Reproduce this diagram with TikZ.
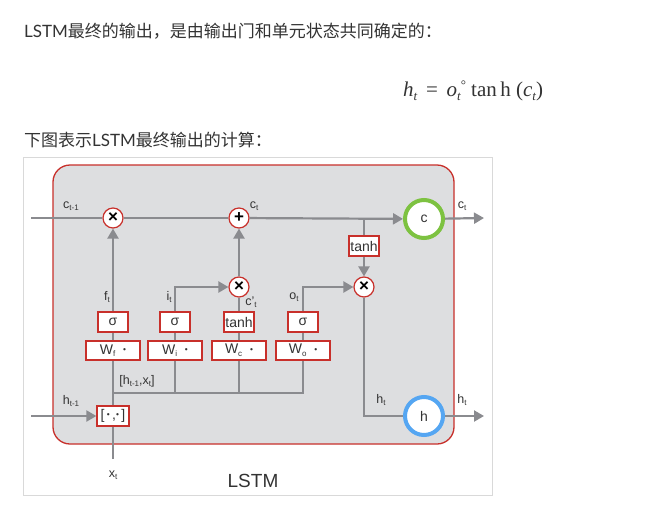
\documentclass[tikz,border=0pt]{standalone}
\usepackage{fontspec}
\setmainfont{Liberation Sans}
\newfontfamily\cjk{Noto Sans CJK SC}
\newfontfamily\lato{Lato}
\newfontfamily\tms{Liberation Serif}
\usetikzlibrary{arrows.meta}

\definecolor{wirec}{HTML}{8A8B8F}
\definecolor{redc}{HTML}{C8302B}
\definecolor{greenc}{HTML}{7DC241}
\definecolor{bluec}{HTML}{55A6F2}
\definecolor{cellc}{HTML}{DDDEE0}
\definecolor{framec}{HTML}{D9D9D9}
\definecolor{txt}{HTML}{333333}

% small lowered index used in the cell labels
\newcommand\sub[1]{\raisebox{-0.35ex}{\fontsize{8}{8}\selectfont #1}}
\newcommand\msub[1]{\raisebox{-0.45ex}{\fontsize{13}{13}\selectfont\itshape #1}}
\newcommand\dotop{\raisebox{0.25ex}{\scalebox{0.6}{\textbullet}}}

\tikzset{
  wire/.style={draw=wirec, line width=2.2pt},
  arr/.style={-{Triangle[length=10pt,width=11pt]}},
  redbox/.style={draw=redc, fill=white, line width=1.3pt, inner sep=0pt,
    minimum height=20pt, font=\fontsize{14}{14}\selectfont, text=txt},
  gatebox/.style={redbox, minimum width=30pt},
  wbox/.style={redbox, minimum width=54pt, minimum height=19pt},
  op/.style={circle, draw=redc, fill=white, line width=1.2pt, inner sep=0pt,
    minimum size=20pt, font=\fontsize{17}{17}\selectfont\bfseries},
  state/.style={circle, fill=white, line width=4pt, minimum size=38pt,
    inner sep=0pt, font=\fontsize{14}{14}\selectfont, text=txt},
  lbl/.style={text=txt, inner sep=0pt, font=\fontsize{12.5}{12.5}\selectfont},
  para/.style={text=txt, inner sep=0pt, anchor=west,
    font=\fontsize{17}{17}\selectfont},
}

\begin{document}
\begin{tikzpicture}[x=1pt,y=-1pt]
\useasboundingbox (0,0) rectangle (649,520);
\fill[white] (0,0) rectangle (649,520);

% paragraph text and formula
\node[para] (p1) at (24,31) {\lato LSTM\cjk 最终的输出，是由输出门和单元状态共同确定的：};
\node[text=txt, inner sep=0pt, anchor=west] (eq) at (403,91)
  {\tms\fontsize{21}{21}\selectfont \textit{h}\msub{t}\ \,=\ \,\textit{o}\msub{t}\raisebox{0.7ex}{\fontsize{13}{13}\selectfont°}\ tan\,h\ (\textit{c}\msub{t})};
\node[para] (p2) at (24,140) {\cjk 下图表示\lato LSTM\cjk 最终输出的计算：};

% frame and cell
\draw[framec, line width=1pt] (23,157) rectangle (492,495);
\draw[redc, fill=cellc, line width=1.3pt, rounded corners=17pt] (53,165) rectangle (454,444);

% operators
\node[op] (m1) at (113,218) {×};
\node[op] (a1) at (239,218) {+};
\node[op] (m2) at (239,287) {×};
\node[op] (m3) at (364,287) {×};

% state nodes
\node[state, draw=greenc] (C) at (424,219) {c};
\node[state, draw=bluec] (H) at (424,416) {h};

% gate boxes
\node[gatebox] (sf) at (113,322) {σ};
\node[gatebox] (si) at (175,322) {σ};
\node[gatebox] (tc) at (239,322) {tanh};
\node[gatebox] (so) at (303,322) {σ};
\node[gatebox] (th) at (364,246) {tanh};

% weight boxes
\node[wbox] (Wf) at (113,350.5) {W\sub{f}~~\dotop};
\node[wbox] (Wi) at (175,350.5) {W\sub{i}~~\dotop};
\node[wbox] (Wc) at (239,350.5) {W\sub{c}~~\dotop};
\node[wbox] (Wo) at (303,350.5) {W\sub{o}~~\dotop};

% concatenation box
\node[redbox, minimum width=32pt] (cat) at (113,416) {[\,\dotop\,,\dotop\,]};

% loose ends
\coordinate (cin) at (31,218);
\coordinate (cout) at (484,218);
\coordinate (hin) at (31,416);
\coordinate (hout) at (484,416);
\coordinate (xin) at (113,459);
\coordinate (j1) at (364,218);
\coordinate (bus) at (113,393);

% cell state line
\draw[wire] (cin) -- (m1);
\draw[wire] (m1) -- (a1);
\draw[wire,arr] (a1) -- (C);
\draw[wire,arr] (C) -- (cout);
\draw[wire] (j1) -- (th);
\draw[wire,arr] (th) -- (m3);

% gates
\draw[wire,arr] (sf) -- (m1);
\draw[wire,arr] (si) |- (m2);
\draw[wire] (tc) -- (m2);
\draw[wire,arr] (m2) -- (a1);
\draw[wire,arr] (so) |- (m3);
\draw[wire] (m3) |- (H);
\draw[wire,arr] (H) -- (hout);

% weights to gates
\draw[wire] (Wf) -- (sf);
\draw[wire] (Wi) -- (si);
\draw[wire] (Wc) -- (tc);
\draw[wire] (Wo) -- (so);

% inputs and bus
\draw[wire,arr] (hin) -- (cat);
\draw[wire] (xin) -- (cat);
\draw[wire] (cat) -- (Wf);
\draw[wire] (bus) -| (Wo);
\draw[wire] (Wi) -- (Wi |- bus);
\draw[wire] (Wc) -- (Wc |- bus);

% labels
\node[lbl] (lc0) at (71,206) {c\sub{t-1}};
\node[lbl] (lc1) at (254,206) {c\sub{t}};
\node[lbl] (lc2) at (462,206) {c\sub{t}};
\node[lbl] (lf) at (107,297) {f\sub{t}};
\node[lbl] (li) at (169,297) {i\sub{t}};
\node[lbl] (lcp) at (251,302) {c'\sub{t}};
\node[lbl] (lo) at (294,297) {o\sub{t}};
\node[lbl] (lh0) at (71,401) {h\sub{t-1}};
\node[lbl] (lcat) at (137,381) {[h\sub{t-1},x\sub{t}]};
\node[lbl] (lh1) at (381,400) {h\sub{t}};
\node[lbl] (lh2) at (462,400) {h\sub{t}};
\node[lbl] (lx) at (113,475) {x\sub{t}};
\node[text=txt, inner sep=0pt, font=\fontsize{19}{19}\selectfont] (name) at (253,481) {LSTM};
\end{tikzpicture}
\end{document}
